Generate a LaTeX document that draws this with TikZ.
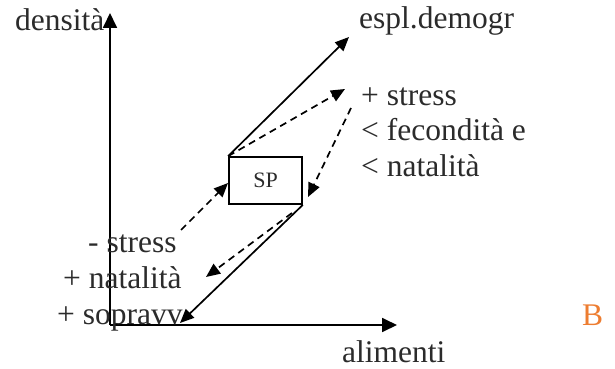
\documentclass[tikz,border=0pt]{standalone}
\usepackage{fontspec}
\setmainfont{Liberation Serif}
\usetikzlibrary{arrows.meta}
\definecolor{txt}{HTML}{2B2B2B}
\definecolor{borange}{HTML}{ED7D31}
\tikzset{
  lbl/.style={inner sep=0pt, anchor=base west, text=txt, font=\fontsize{31.5}{36}\selectfont},
  axis/.style={line width=1.8pt, -{Triangle[length=15pt,width=14pt]}},
  solidarr/.style={line width=1.7pt, -{Triangle[length=14pt,width=12pt]}},
  dasharr/.style={line width=1.7pt, dash pattern=on 7pt off 5pt, -{Triangle[length=14pt,width=12pt]}},
  spbox/.style={draw, line width=1.7pt, minimum width=73pt, minimum height=47pt, inner sep=0pt, text=txt, font=\fontsize{22}{24}\selectfont}
}
\begin{document}
\begin{tikzpicture}[x=1pt,y=-1pt]
\useasboundingbox (0,0) rectangle (615,369);
% axes
\coordinate (o) at (110,325);
\coordinate (ytip) at (110,13);
\coordinate (xtip) at (397,325);
\draw[axis] (o) -- (ytip);
\draw[axis] (o) -- (xtip);
% labels
\node[lbl] (dens) at (15,31) {densità};
\node[lbl] (espl) at (359,29) {espl.demogr};
\node[lbl] (ps) at (361,105) {+ stress};
\node[lbl] (fec) at (361,140.5) {< fecondità e};
\node[lbl] (nat) at (361,176) {< natalità};
\node[lbl] (ms) at (88,252) {- stress};
\node[lbl] (pn) at (63,288) {+ natalità};
\node[lbl] (psv) at (57,324) {+ sopravv};
\node[lbl] (alim) at (342,362) {alimenti};
\node[lbl, text=borange] (B) at (582,325) {B};
% box
\node[spbox] (sp) at (265.5,180.5) {SP};
% connector ends
\coordinate (e1) at (349,37);
\coordinate (e2) at (345,89);
\coordinate (s3) at (351,108);
\coordinate (e3) at (308,197);
\coordinate (e4) at (180,323);
\coordinate (s5) at (292,213);
\coordinate (e5) at (206,277);
\coordinate (s6) at (181,230);
\coordinate (e6) at (228,183);
% arrows
\draw[solidarr] (sp.north west) -- (e1);
\draw[dasharr] (sp.north west) -- (e2);
\draw[dasharr] (s3) -- (e3);
\draw[solidarr] (sp.south east) -- (e4);
\draw[dasharr] (s5) -- (e5);
\draw[dasharr] (s6) -- (e6);
\end{tikzpicture}
\end{document}
